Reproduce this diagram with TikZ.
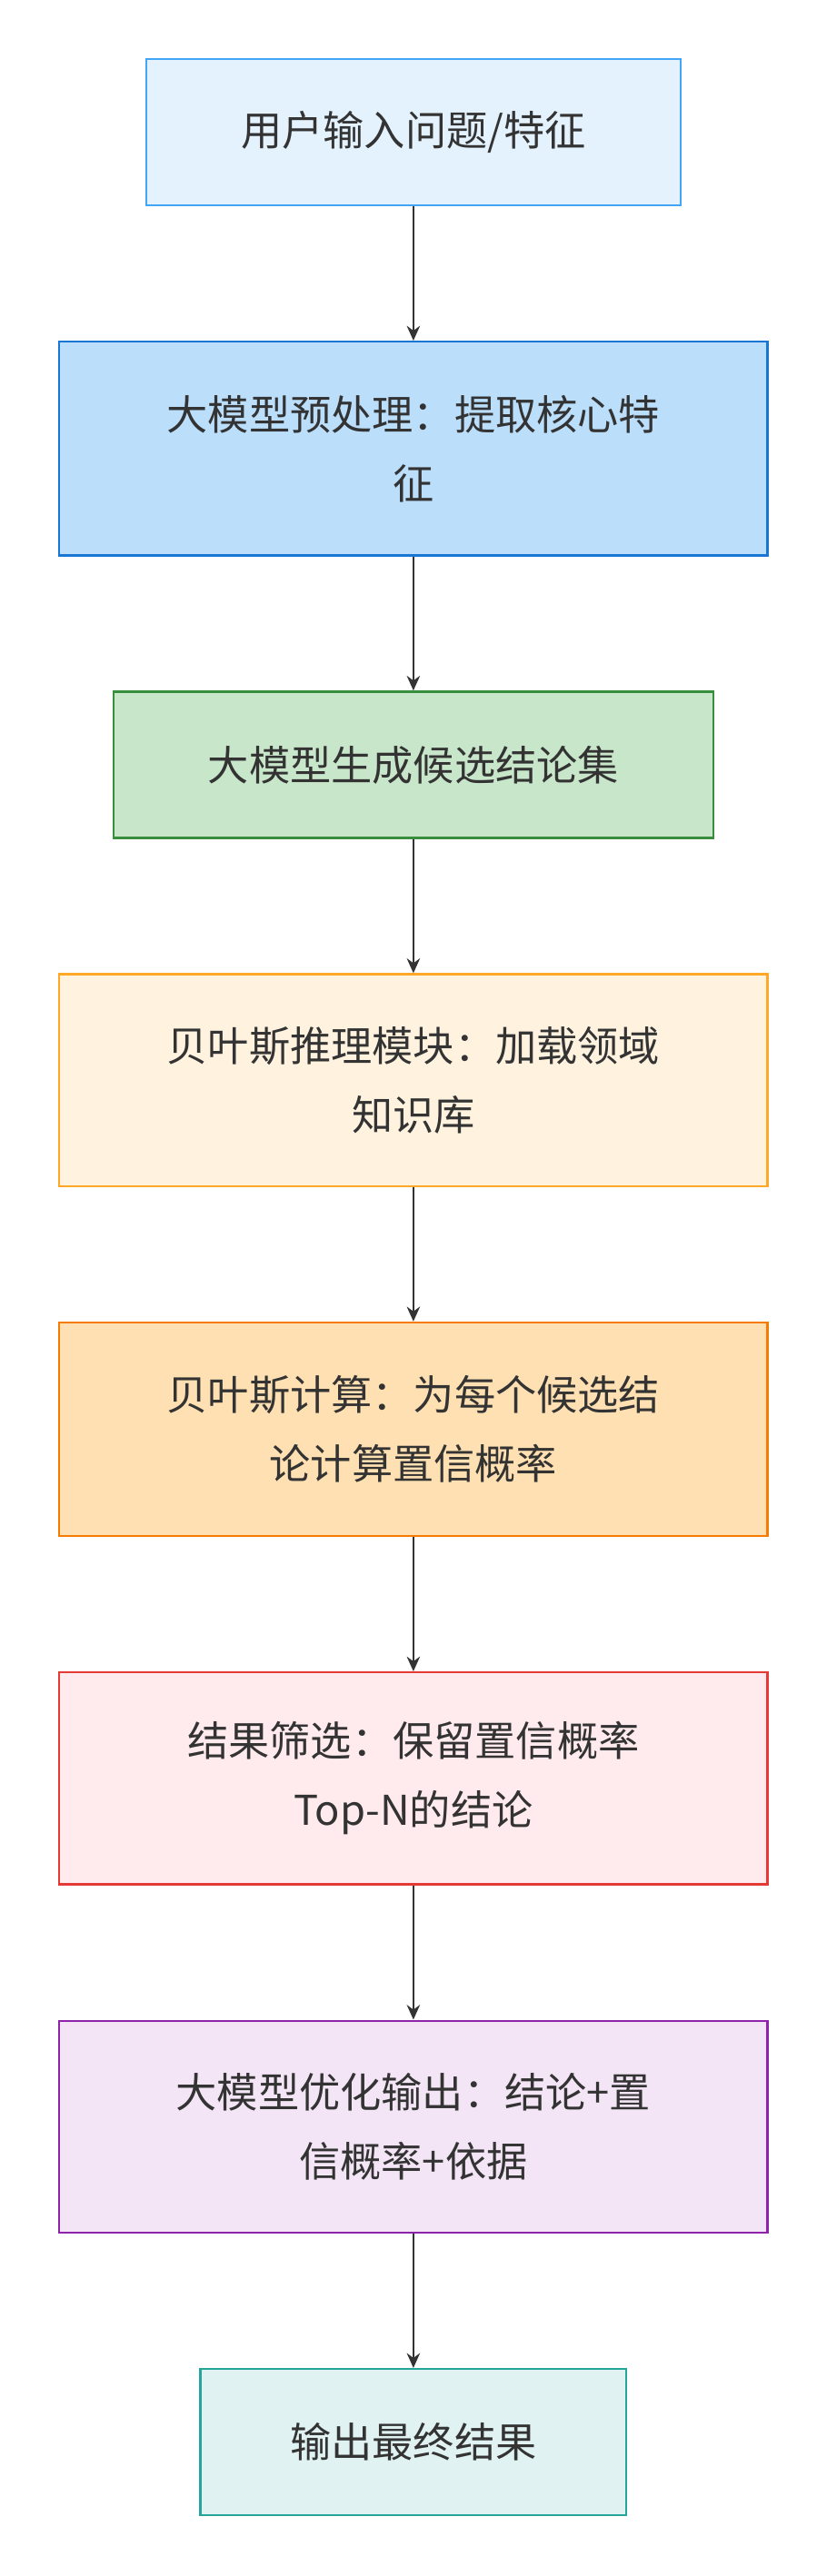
\documentclass[tikz,border=0pt]{standalone}
\usepackage{fontspec}
\setmainfont{Noto Sans CJK SC}
\usetikzlibrary{arrows.meta, positioning}
\definecolor{txt}{HTML}{333333}
\definecolor{f1}{HTML}{E3F2FD}\definecolor{d1}{HTML}{42A5F5}
\definecolor{f2}{HTML}{BBDEFB}\definecolor{d2}{HTML}{1976D2}
\definecolor{f3}{HTML}{C8E6C9}\definecolor{d3}{HTML}{388E3C}
\definecolor{f4}{HTML}{FFF3E0}\definecolor{d4}{HTML}{FFA726}
\definecolor{f5}{HTML}{FFE0B2}\definecolor{d5}{HTML}{F57C00}
\definecolor{f6}{HTML}{FFEBEE}\definecolor{d6}{HTML}{E53935}
\definecolor{f7}{HTML}{F3E5F5}\definecolor{d7}{HTML}{8E24AA}
\definecolor{f8}{HTML}{E0F2F1}\definecolor{d8}{HTML}{26A69A}
\begin{document}
\begin{tikzpicture}[x=1pt, y=-1pt,
    box/.style={draw, line width=1.3pt, minimum height=89pt, align=center, text=txt,
        font=\fontsize{25}{42}\selectfont},
    arrow/.style={-{Stealth[length=9pt, width=8pt]}, line width=1.3pt, draw=txt}
]
    \useasboundingbox[fill=white] (0,0) rectangle (503,1568);

    % steps
    \node[box, fill=f1, draw=d1, minimum width=325pt] (input) at (251.5,80.5) {用户输入问题/特征};
    \node[box, fill=f2, draw=d2, minimum width=431pt, minimum height=130pt] (prep) at (251.5,273) {大模型预处理：提取核心特\\征};
    \node[box, fill=f3, draw=d3, minimum width=365pt] (cand) at (251.5,465.5) {大模型生成候选结论集};
    \node[box, fill=f4, draw=d4, minimum width=431pt, minimum height=129pt] (load) at (251.5,657.5) {贝叶斯推理模块：加载领域\\知识库};
    \node[box, fill=f5, draw=d5, minimum width=431pt, minimum height=130pt] (calc) at (251.5,870) {贝叶斯计算：为每个候选结\\论计算置信概率};
    \node[box, fill=f6, draw=d6, minimum width=431pt, minimum height=129pt] (filter) at (251.5,1082.5) {结果筛选：保留置信概率\\Top-N的结论};
    \node[box, fill=f7, draw=d7, minimum width=431pt, minimum height=129pt] (refine) at (251.5,1294.5) {大模型优化输出：结论+置\\信概率+依据};
    \node[box, fill=f8, draw=d8, minimum width=259pt] (output) at (251.5,1486.5) {输出最终结果};

    % connections
    \draw[arrow] (input) -- (prep);
    \draw[arrow] (prep) -- (cand);
    \draw[arrow] (cand) -- (load);
    \draw[arrow] (load) -- (calc);
    \draw[arrow] (calc) -- (filter);
    \draw[arrow] (filter) -- (refine);
    \draw[arrow] (refine) -- (output);
\end{tikzpicture}
\end{document}
